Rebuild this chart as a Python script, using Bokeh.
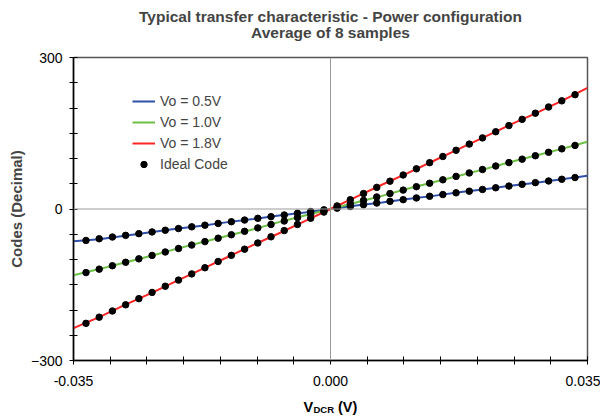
from bokeh.plotting import figure
from bokeh.models import (Range1d, FixedTicker, PrintfTickFormatter, Span, Title,
                          Legend, LegendItem)
from bokeh.layouts import column
from bokeh.core.properties import value
from bokeh.embed import file_html
from bokeh.resources import INLINE

# ---------------- data ----------------
title_line1 = "Typical transfer characteristic - Power configuration"
title_line2 = "Average of 8 samples"
y_title = "Codes (Decimal)"
x_title_parts = ["V", "DCR", "(V)"]

series_names = ["Vo = 0.5V", "Vo = 1.0V", "Vo = 1.8V"]
series_colors = ["#2F4FA8", "#6CC043", "#FF2525"]

# measured transfer curves
x_meas = [-0.035, -0.0315, -0.028, -0.0245, -0.021, -0.0175, -0.014, -0.0105, -0.007, -0.0035,
          0.0, 0.0035, 0.007, 0.0105, 0.014, 0.0175, 0.021, 0.0245, 0.028, 0.0315, 0.035]
meas_05 = [-64, -60, -53, -46, -39, -33, -26, -20, -13, -7,
           0, 7, 13, 20, 26, 33, 39, 46, 52, 59, 66]
meas_10 = [-131, -119, -106, -93, -79, -66, -53, -40, -26, -13,
           0, 13, 26, 40, 53, 66, 79, 93, 106, 119, 133]
meas_18 = [-236, -214, -190, -167, -143, -119, -95, -71, -48, -24,
           0, 24, 48, 71, 95, 119, 143, 167, 190, 214, 240]

# ideal codes
x_ideal = [-0.0333, -0.0315, -0.0297, -0.0279, -0.0261, -0.0243, -0.0225, -0.0207, -0.0189,
           -0.0171, -0.0153, -0.0135, -0.0117, -0.0099, -0.0081, -0.0063, -0.0045, -0.0027,
           -0.0009, 0.0009, 0.0027, 0.0045, 0.0063, 0.0081, 0.0099, 0.0117, 0.0135, 0.0153,
           0.0171, 0.0189, 0.0207, 0.0225, 0.0243, 0.0261, 0.0279, 0.0297, 0.0315, 0.0333]
ideal_05 = [-62.3, -58.9, -55.5, -52.2, -48.8, -45.4, -42.1, -38.7, -35.3, -32.0, -28.6, -25.2,
            -21.9, -18.5, -15.1, -11.8, -8.4, -5.0, -1.7, 1.7, 5.0, 8.4, 11.8, 15.1, 18.5, 21.9,
            25.2, 28.6, 32.0, 35.3, 38.7, 42.1, 45.4, 48.8, 52.2, 55.5, 58.9, 62.3]
ideal_10 = [-125.9, -119.1, -112.3, -105.5, -98.7, -91.9, -85.1, -78.2, -71.4, -64.6, -57.8,
            -51.0, -44.2, -37.4, -30.6, -23.8, -17.0, -10.2, -3.4, 3.4, 10.2, 17.0, 23.8, 30.6,
            37.4, 44.2, 51.0, 57.8, 64.6, 71.4, 78.2, 85.1, 91.9, 98.7, 105.5, 112.3, 119.1, 125.9]
ideal_18 = [-226.4, -214.2, -202.0, -189.7, -177.5, -165.2, -153.0, -140.8, -128.5, -116.3,
            -104.0, -91.8, -79.6, -67.3, -55.1, -42.8, -30.6, -18.4, -6.1, 6.1, 18.4, 30.6,
            42.8, 55.1, 67.3, 79.6, 91.8, 104.0, 116.3, 128.5, 140.8, 153.0, 165.2, 177.5,
            189.7, 202.0, 214.2, 226.4]
ideal_name = "Ideal Code"

x_major = [-0.035, 0.0, 0.035]
x_minor = [-0.030, -0.025, -0.020, -0.015, -0.010, -0.005, 0.005, 0.010, 0.015, 0.020, 0.025, 0.030]
y_major = [-300, 0, 300]
y_minor = [-250, -200, -150, -100, -50, 50, 100, 150, 200, 250]

FONT = "Liberation Sans"
W = 600

p = figure(width=W, height=398, output_backend="svg", toolbar_location=None,
           x_range=Range1d(-0.035, 0.035), y_range=Range1d(-300, 300),
           min_border_left=73, min_border_right=13, min_border_top=57, min_border_bottom=38,
           title=title_line1)
p.title.align = "center"
p.title.text_font = FONT
p.title.text_font_size = "15.5px"
p.title.text_font_style = "bold"
try:
    p.title.standoff = -6.5
except Exception:
    p.title.standoff = 0

# spacer between the frame and the second title line
p.add_layout(Title(text=" ", align="center", text_font=FONT, text_font_size="10px",
                   standoff=4), "above")
p.add_layout(Title(text=title_line2, align="center", text_font=FONT, text_font_size="15.5px",
                   text_font_style="bold", standoff=0), "above")

p.background_fill_color = "white"
p.border_fill_color = "white"
p.outline_line_color = "#555555"
p.outline_line_width = 1.5
p.xgrid.visible = False
p.ygrid.visible = False

for ax, ticks, minor in ((p.xaxis[0], x_major, x_minor), (p.yaxis[0], y_major, y_minor)):
    ax.ticker = FixedTicker(ticks=ticks, minor_ticks=minor)
    ax.axis_line_color = "black"
    ax.axis_line_width = 1.5
    ax.major_tick_line_color = "black"
    ax.minor_tick_line_color = "black"
    ax.major_tick_line_width = 1
    ax.minor_tick_line_width = 1
    ax.major_tick_in = 4
    ax.major_tick_out = 4
    ax.minor_tick_in = 4
    ax.minor_tick_out = 4
    ax.major_label_text_font = FONT
    ax.major_label_text_font_size = "14px"
    ax.major_label_text_color = "black"
p.xaxis.formatter = PrintfTickFormatter(format="%.3f")
p.xaxis.major_label_standoff = 11
p.yaxis.major_label_standoff = 7
p.yaxis.axis_label = y_title
p.yaxis.axis_label_text_font = FONT
p.yaxis.axis_label_text_font_size = "15px"
p.yaxis.axis_label_text_font_style = "bold"
p.yaxis.axis_label_standoff = 3

p.add_layout(Span(location=0, dimension="height", line_color="#9A9A9A", line_width=1))
p.add_layout(Span(location=0, dimension="width", line_color="#9A9A9A", line_width=1))

items = []
meas = [meas_05, meas_10, meas_18]
for name, col, ys in zip(series_names, series_colors, meas):
    r = p.line(x_meas, ys, line_color=col, line_width=2)
    items.append(LegendItem(label=name, renderers=[r]))

dots = None
for ys in (ideal_05, ideal_10, ideal_18):
    dots = p.scatter(x_ideal, ys, marker="circle", size=6.5, fill_color="black", line_color="black")
items.append(LegendItem(label=ideal_name, renderers=[dots]))

legend = Legend(items=items, location=(59, 188), padding=0, margin=0, spacing=5,
                glyph_width=23, glyph_height=16, label_standoff=5,
                label_text_font=FONT, label_text_font_size="14px",
                border_line_color=None, background_fill_alpha=0)
p.add_layout(legend)

# x axis title strip (V with subscript DCR); frame is aligned with the main frame,
# x measured in pixels from the frame centre
p2 = figure(width=W, height=20, output_backend="svg", toolbar_location=None,
            x_range=Range1d(-257, 257), y_range=Range1d(0, 20),
            x_axis_location=None, y_axis_location=None,
            min_border_left=73, min_border_right=13, min_border_top=0, min_border_bottom=0)
p2.outline_line_color = None
p2.xgrid.visible = False
p2.ygrid.visible = False
p2.text(x=[-27], y=[12], text=[x_title_parts[0]], text_font=value(FONT),
        text_font_size=value("14.5px"), text_font_style="bold", text_baseline="alphabetic")
p2.text(x=[-17], y=[9.5], text=[x_title_parts[1]], text_font=value(FONT),
        text_font_size=value("9.5px"), text_font_style="bold", text_baseline="alphabetic")
p2.text(x=[7.5], y=[12], text=[x_title_parts[2]], text_font=value(FONT),
        text_font_size=value("14.5px"), text_font_style="bold", text_baseline="alphabetic")

layout = column(p, p2, spacing=0)
open("out.html", "w").write(file_html(layout, INLINE))
